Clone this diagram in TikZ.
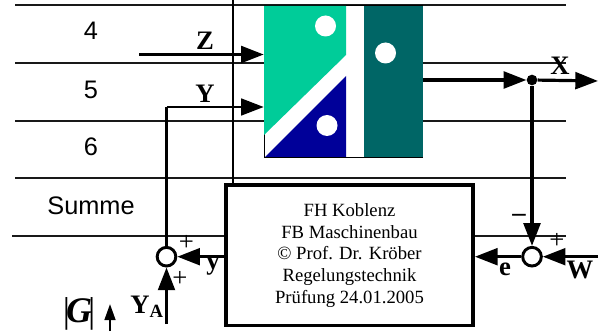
\documentclass[tikz,border=0pt]{standalone}
\usepackage{fontspec}
\setmainfont{Liberation Serif}
\newfontfamily\labelsans{Liberation Sans}
\usetikzlibrary{arrows.meta}
\definecolor{fhgreen}{RGB}{0,204,153}
\definecolor{fhblue}{RGB}{0,0,153}
\definecolor{fhteal}{RGB}{0,102,102}
\tikzset{
  sig/.style={line width=2.4pt,-{Triangle[length=17pt,width=12.5pt]}},
  sigthin/.style={line width=2pt,-{Triangle[length=17pt,width=12.5pt]}},
  grid/.style={line width=1.5pt,black!90},
  sumpoint/.style={circle,draw,line width=2.2pt,fill=white,inner sep=0pt,minimum size=14pt},
  varlabel/.style={inner sep=0pt,font=\fontsize{20}{22}\selectfont\bfseries},
  rowlabel/.style={inner sep=0pt,font=\fontsize{19}{22}\labelsans},
  signlabel/.style={inner sep=0pt,font=\fontsize{20}{22}\selectfont},
}

\begin{document}
\begin{tikzpicture}[x=0.75pt,y=0.75pt,yscale=-1,xscale=1]
\useasboundingbox (0,0) rectangle (605,331);

%Table Lines
\draw [grid] (15,5.3) -- (566,5.3) ;
\draw [grid] (15,63) -- (566,63) ;
\draw [grid] (15,120.7) -- (566,120.7) ;
\draw [grid] (15,178) -- (566,178) ;
\draw [grid] (12,235.7) -- (566,235.7) ;
\draw [line width=1pt] (233,0) -- (233,185) ;

%Plant Block
\node [draw,line width=0.6pt,fill=white,minimum width=119pt,minimum height=114pt,inner sep=0pt] (plant) at (343.5,81.5) {};
\fill [fhgreen] (264,6) -- (346,6) -- (346,55) -- (264,135) -- cycle ;
\fill [fhblue] (346,76) -- (346,157) -- (265,157) -- cycle ;
\fill [fhteal] (364,6) rectangle (422.7,157) ;
\fill [white] (325.5,26) circle [radius=10.5] ;
\fill [white] (385.5,53) circle [radius=10.5] ;
\fill [white] (327,125.5) circle [radius=10.5] ;

%Controller Block
\node [draw,line width=2.6pt,fill=white,minimum width=185.5pt,minimum height=105.5pt,inner sep=0pt,align=center,font=\fontsize{14}{16.3}\selectfont] (controller) at (349.5,255.3) {FH Koblenz\\FB Maschinenbau\\\textcopyright{} Prof. Dr. Kröber\\Regelungstechnik\\Prüfung 24.01.2005};

%Junctions
\node [sumpoint] (sumleft) at (166.5,256.7) {};
\node [sumpoint] (sumright) at (532,256.7) {};
\node [circle,fill,inner sep=0pt,minimum size=8pt] (branch) at (532,80) {};

%Free Ends
\coordinate (zstart) at (139,54.5);
\coordinate (ystart) at (166.5,107);
\coordinate (xstart) at (423,80);
\coordinate (xend) at (598,81);
\coordinate (wstart) at (598,256.7);
\coordinate (yastart) at (166.5,324);
\coordinate (gstart) at (110,331);
\coordinate (gend) at (110,304);

%Signal Lines
\draw [sig] (zstart) -- (plant.west |- zstart) ;
\draw [line width=2pt] (sumleft) -- (ystart) ;
\draw [sigthin] (ystart) -- (plant.west |- ystart) ;
\draw [sig] (xstart) -- (branch) ;
\draw [sig] (branch) -- (xend) ;
\draw [sig] (branch) -- (sumright) ;
\draw [sig] (wstart) -- (sumright) ;
\draw [sig] (sumright) -- (controller.east |- sumright) ;
\draw [sig] (controller.west |- sumleft) -- (sumleft) ;
\draw [sig] (yastart) -- (sumleft) ;
\draw [line width=1.8pt,-{Triangle[length=12pt,width=8pt]}] (gstart) -- (gend) ;

% Text Node
\node [rowlabel] (rowfour) at (91,31) {4};
\node [rowlabel] (rowfive) at (91,90) {5};
\node [rowlabel] (rowsix) at (91,147) {6};
\node [rowlabel] (rowsum) at (91,206) {Summe};
\node [varlabel] (zlabel) at (205,41) {Z};
\node [varlabel] (ylabel) at (205,94) {Y};
\node [varlabel] (xlabel) at (560,66) {X};
\node [varlabel] (ysmall) at (213,266) {y};
\node [varlabel] (elabel) at (505,269) {e};
\node [varlabel] (wlabel) at (580,270) {W};
\node [varlabel] (yalabel) at (147,307) {Y\textsubscript{A}};
\node [signlabel] (plusa) at (186.5,243) {+};
\node [signlabel] (plusb) at (180,279) {+};
\node [signlabel] (minus) at (519,218) {\textbf{--}};
\node [signlabel] (plusc) at (557,241) {+};
\node [inner sep=0pt,font=\fontsize{27}{29}\selectfont] (gain) at (79,314) {|\kern-3pt\textit{\textbf{G}}\kern-3pt|};

\end{tikzpicture}
\end{document}
